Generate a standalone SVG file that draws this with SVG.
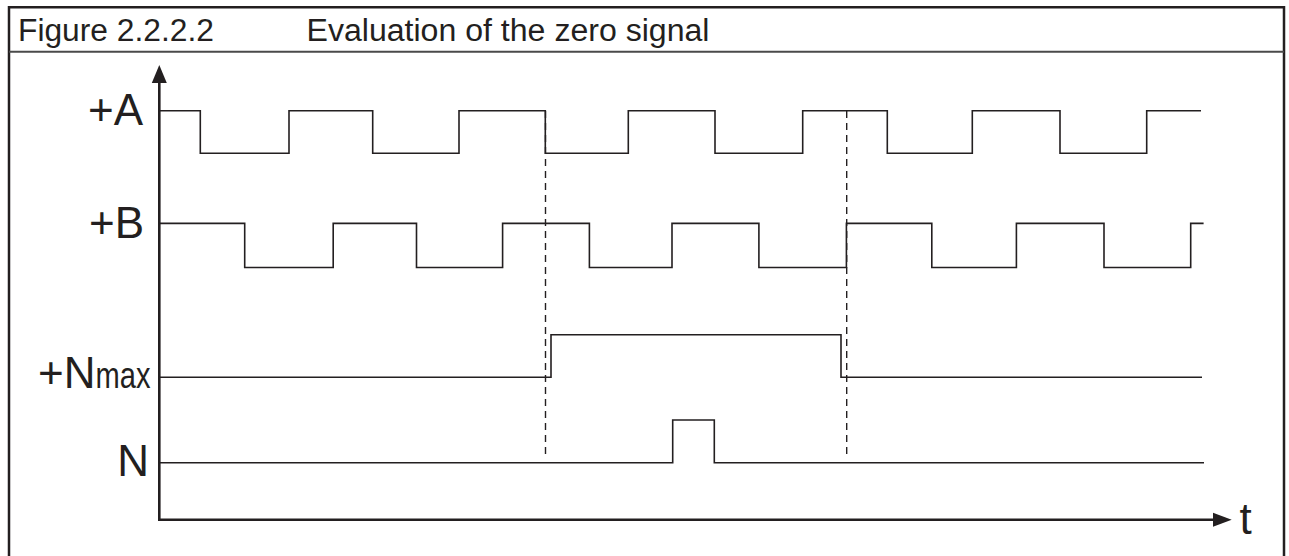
<svg xmlns="http://www.w3.org/2000/svg" width="1289" height="556" viewBox="0 0 1289 556">
  <style>
    .frame { fill: none; stroke: #231f20; stroke-width: 2.5; }
    .sep { stroke: #4a4a4a; stroke-width: 2; }
    .sig { fill: none; stroke: #231f20; stroke-width: 1.6; stroke-linejoin: miter; }
    .axis { fill: none; stroke: #231f20; stroke-width: 2.6; }
    .head { fill: #231f20; }
    .dash { stroke: #231f20; stroke-width: 1.4; stroke-dasharray: 7 5; }
    .hdr { font-family: "Liberation Sans", Arial, sans-serif; font-size: 31px; fill: #231f20; }
    .lbl { font-family: "Liberation Sans", Arial, sans-serif; font-size: 44px; fill: #231f20; }
  </style>
  <rect width="1289" height="556" fill="#ffffff"/>

  <g id="frame">
    <path class="frame" d="M9,570 V7.3 H1284 V570"/>
    <line class="sep" x1="9" y1="51.7" x2="1284" y2="51.7"/>
    <text class="hdr" x="18" y="40.7" textLength="196" lengthAdjust="spacingAndGlyphs">Figure 2.2.2.2</text>
    <text class="hdr" x="306.5" y="40.7" textLength="403" lengthAdjust="spacingAndGlyphs">Evaluation of the zero signal</text>
  </g>

  <g id="connectors">
    <g id="axes">
      <polyline class="axis" points="159.3,80 159.3,519.7 1215,519.7"/>
      <polygon class="head" points="159.3,65 151.8,83 166.8,83"/>
      <polygon class="head" points="1213,512.7 1231.7,519.7 1213,526.7"/>
    </g>
    <g id="markers">
      <line class="dash" x1="545.5" y1="111" x2="545.5" y2="457"/>
      <line class="dash" x1="846.7" y1="111" x2="846.7" y2="457"/>
    </g>
  </g>

  <g id="signal-A">
    <path class="sig" d="M159,110.7 H200.3 V153.3 H289 V110.7 H372.7 V153.3 H459 V110.7 H545.3 V153.3 H628.3 V110.7 H715 V153.3 H802.7 V110.7 H887.3 V153.3 H972.3 V110.7 H1060 V153.3 H1146.7 V110.7 H1201"/>
    <text class="lbl" x="143" y="125" text-anchor="end">+A</text>
  </g>

  <g id="signal-B">
    <path class="sig" d="M159,223.4 H244.7 V267.5 H333.2 V223.4 H416.5 V267.5 H502.6 V223.4 H589.4 V267.5 H672 V223.4 H758.9 V267.5 H846.4 V223.4 H931.8 V267.5 H1016.4 V223.4 H1104 V267.5 H1190.7 V223.4 H1203.6"/>
    <text class="lbl" x="144" y="238.3" text-anchor="end">+B</text>
  </g>

  <g id="signal-Nmax">
    <path class="sig" d="M159,377.3 H551 V334.7 H841 V377.3 H1202"/>
    <text class="lbl" x="38" y="388.3">+N</text>
    <text class="lbl" x="95.5" y="388.3" style="font-size:36px" textLength="55" lengthAdjust="spacingAndGlyphs">max</text>
  </g>

  <g id="signal-N">
    <path class="sig" d="M159,462.7 H672.7 V420 H714.3 V462.7 H1204"/>
    <text class="lbl" x="149" y="475.7" text-anchor="end">N</text>
  </g>

  <g id="time-label">
    <text class="lbl" x="1239.5" y="534.3">t</text>
  </g>
</svg>
